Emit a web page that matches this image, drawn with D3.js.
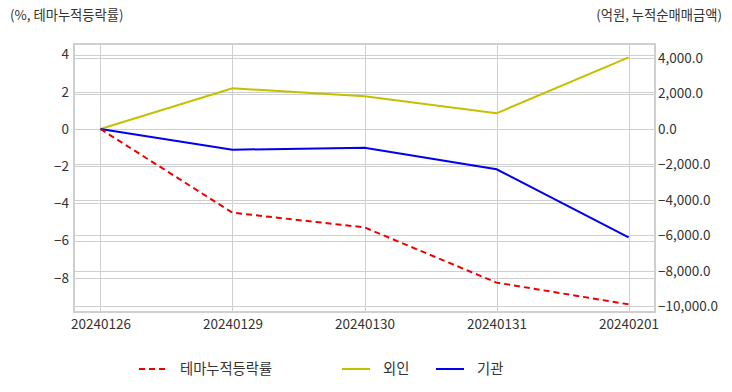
<!DOCTYPE html>
<html><head><meta charset="utf-8">
<script src="https://cdn.jsdelivr.net/npm/d3@7"></script>
<style>body{margin:0;background:#fff}text{font-family:"Noto Sans CJK KR","Noto Sans",sans-serif}</style>
</head><body><svg id="c" width="732" height="392"></svg>
<script>
const categories = ["20240126","20240129","20240130","20240131","20240201"];
const themeRate = [0, -4.5, -5.29, -8.26, -9.43];
const foreign = [0, 2298, 1850, 886, 4048];
const institution = [0, -1169, -1060, -2276, -6115];
const leftTicks = [4, 2, 0, -2, -4, -6, -8];
const rightTicks = [4000, 2000, 0, -2000, -4000, -6000, -8000, -10000];
const legendNames = ["테마누적등락률", "외인", "기관"];

const svg = d3.select("#c");
const L = 74, R = 655, T = 44, B = 312;
const x = d3.scalePoint().domain(categories).range([L, R]).padding(0.2);
const yL = d3.scaleLinear().domain([-9.84, 4.57]).range([B, T]);
const yR = d3.scaleLinear().domain([-10333, 4800]).range([B, T]);
const grid = "#cfcfcf";

// grid lines
svg.append("g").selectAll("line").data(leftTicks).join("line")
  .attr("x1", L).attr("x2", R).attr("y1", d => Math.round(yL(d))+0.5).attr("y2", d => Math.round(yL(d))+0.5)
  .attr("stroke", grid).attr("stroke-width", 1);
svg.append("g").selectAll("line").data(rightTicks).join("line")
  .attr("x1", L).attr("x2", R).attr("y1", d => Math.round(yR(d))+0.5).attr("y2", d => Math.round(yR(d))+0.5)
  .attr("stroke", grid).attr("stroke-width", 1);
svg.append("g").selectAll("line").data(categories).join("line")
  .attr("x1", d => Math.round(x(d))+0.5).attr("x2", d => Math.round(x(d))+0.5).attr("y1", T).attr("y2", B)
  .attr("stroke", grid).attr("stroke-width", 1);
svg.append("rect").attr("x", L).attr("y", T).attr("width", R-L).attr("height", B-T)
  .attr("fill", "none").attr("stroke", grid).attr("stroke-width", 2);

// axes labels
const axL = svg.append("g").attr("transform", `translate(${L-5},0)`).call(d3.axisLeft(yL).tickValues(leftTicks).tickSize(0).tickPadding(0).tickFormat(d3.format("d")));
const axR = svg.append("g").attr("transform", `translate(${R+3},0)`).call(d3.axisRight(yR).tickValues(rightTicks).tickSize(0).tickPadding(0).tickFormat(d3.format(",.1f")));
const axB = svg.append("g").attr("transform", `translate(0,${B+5})`).call(d3.axisBottom(x).tickSize(0).tickPadding(2));
[axL, axR, axB].forEach(a => {
  a.select(".domain").remove();
  a.selectAll("text").attr("fill", "#333").style("font-size", "13.5px").style("font-family", '"Noto Sans CJK KR",sans-serif');
});

// lines
const lineL = d3.line().x((d,i) => x(categories[i])).y(d => yL(d));
const lineR = d3.line().x((d,i) => x(categories[i])).y(d => yR(d));
svg.append("path").attr("d", lineR(foreign)).attr("fill","none").attr("stroke","#c4c000").attr("stroke-width",2);
svg.append("path").attr("d", lineR(institution)).attr("fill","none").attr("stroke","#0000ee").attr("stroke-width",2);
svg.append("path").attr("d", lineL(themeRate)).attr("fill","none").attr("stroke","#ee0000").attr("stroke-width",2).attr("stroke-dasharray","6,4");

// titles
svg.append("text").attr("x", 10).attr("y", 20).attr("fill","#333").style("font-size","13.3px").text("(%, 테마누적등락률)");
svg.append("text").attr("x", 722).attr("y", 20).attr("text-anchor","end").attr("fill","#333").style("font-size","13.3px").text("(억원, 누적순매매금액)");

// legend
const legend = [
  {name: legendNames[0], color: "#ee0000", dash: "6,4", x: 139},
  {name: legendNames[1], color: "#c4c000", dash: null, x: 342},
  {name: legendNames[2], color: "#0000ee", dash: null, x: 436}
];
const lg = svg.append("g").selectAll("g").data(legend).join("g").attr("transform", d => `translate(${d.x},369)`);
lg.append("line").attr("x1",0).attr("x2",28).attr("y1",0).attr("y2",0).attr("stroke", d=>d.color).attr("stroke-width",2).attr("stroke-dasharray", d=>d.dash);
lg.append("text").attr("x",41).attr("y",5).attr("fill","#333").style("font-size","14.3px").text(d=>d.name);
</script></body></html>
